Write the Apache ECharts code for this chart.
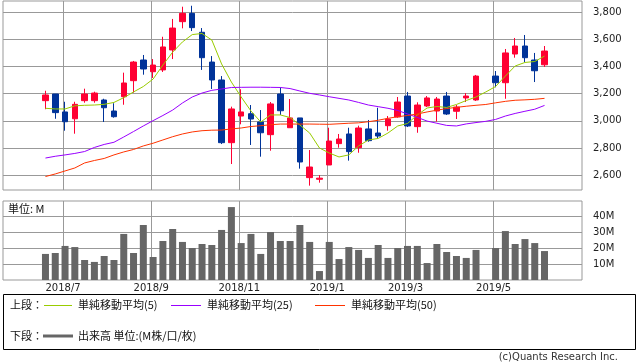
<!DOCTYPE html>
<html><head><meta charset="utf-8">
<script src="https://cdn.jsdelivr.net/npm/echarts@6/dist/echarts.min.js"></script>
<style>html,body{margin:0;padding:0;background:#fff}#c{width:638px;height:362px}</style>
</head><body><div id="c"></div><script>
// weekly data, index 0 = first week shown; index 45 = no trading (holiday week)
const open  = [3148,3197,3065,3015,3148,3148,3153,3072,3177,3295,3447,3361,3374,3521,3729,3790,3651,3432,3300,2839,3035,3052,2991,2898,3197,2949,3021,2582,2570,2675,2832,2903,2802,2940,2910,2964,3028,3182,2957,3109,3072,3182,3070,3168,3153,null,3329,3280,3491,3550,3447,3412];
const close = [3190,3060,2993,3121,3197,3204,3096,3030,3278,3432,3381,3410,3543,3682,3790,3685,3464,3300,2839,3087,3065,3013,2912,3124,3074,3021,2697,2660,2578,2851,2866,2773,2947,2854,2888,3013,3138,2962,3116,3168,3160,3050,3101,3182,3329,null,3280,3499,3550,3464,3368,3513];
const high  = [3221,3197,3140,3140,3236,3214,3162,3129,3354,3440,3484,3454,3618,3749,3839,3846,3682,3476,3329,3104,3232,3116,3079,3138,3246,3160,3021,2785,2601,2949,2903,2949,2964,3006,3096,3035,3175,3212,3136,3182,3175,3212,3116,3204,3337,null,3366,3528,3609,3631,3499,3550];
const low   = [3085,3015,2927,2905,3133,3133,2991,3023,3118,3207,3339,3315,3359,3454,3680,3660,3374,3234,2829,2682,2974,2822,2736,2780,3043,2949,2648,2523,2545,2675,2802,2707,2765,2846,2868,2927,3023,2954,2912,3101,2994,3043,3013,3138,3146,null,3246,3162,3464,3432,3285,3396];
const volume = [16.3,16.9,21.3,20.6,12.5,11.3,15.0,12.5,28.8,16.9,34.4,14.4,24.4,31.9,23.8,20.0,22.5,21.9,31.3,45.6,23.1,28.8,16.3,30.0,24.4,24.4,34.4,23.8,5.6,23.8,13.1,20.6,18.8,13.8,21.9,13.8,20.0,21.3,21.3,10.6,22.5,17.5,15.0,13.8,18.8,null,20.0,30.6,22.5,25.6,23.1,18.1];
const ma5  = [3092,3087,3087,3110,3114,3116,3121,3135,3170,3212,3252,3307,3410,3505,3580,3634,3642,3594,3418,3285,3175,3072,2991,3043,3043,3024,2969,2910,2800,2763,2734,2749,2815,2859,2870,2910,2962,2980,3043,3094,3105,3098,3120,3149,3175,3212,3252,3329,3403,3429,3436,3476];
const ma25 = [2726,2739,2749,2760,2774,2804,2826,2842,2881,2921,2962,3001,3039,3079,3131,3175,3204,3224,3234,3245,3246,3247,3247,3246,3245,3237,3219,3202,3190,3177,3165,3153,3135,3116,3104,3092,3076,3050,3025,2998,2982,2966,2962,2977,2987,2996,3010,3035,3054,3070,3085,3113];
const ma50 = [2590,2609,2631,2653,2690,2708,2723,2749,2771,2789,2815,2835,2859,2883,2903,2918,2927,2931,2932,2940,2947,2958,2964,2971,2976,2976,2976,2976,2975,2974,2978,2982,2985,2993,3004,3018,3030,3039,3050,3065,3078,3090,3099,3107,3114,3120,3132,3143,3151,3154,3158,3165];
const monthTickPos = [1.8,10.8,19.8,28.8,36.8,45.8];
const monthTickLabels = ['2018/7','2018/9','2018/11','2019/1','2019/3','2019/5'];
const priceTicks = [2600,2800,3000,3200,3400,3600,3800];
const volumeTicks = [10,20,30,40];

const candleData = [];
for (let i = 0; i < open.length; i++) {
  if (open[i] != null) candleData.push([i, open[i], close[i], low[i], high[i]]);
}
const toXY = arr => arr.map((v, i) => v == null ? null : [i, v]).filter(Boolean);

const GRAY = '#999';
const LBL = {fontFamily: 'DejaVu Sans', fontSize: 10, color: '#222'};
const xBase = {
  type: 'value', min: -4.34, max: 54.83,
  axisLine: {show: false},
  axisTick: {show: false, customValues: monthTickPos},
  splitLine: {show: true, lineStyle: {color: GRAY, width: 1}},
  axisLabel: {show: false}
};
const labelFor = v => {
  let best = 0;
  monthTickPos.forEach((p, k) => { if (Math.abs(p - v) < Math.abs(monthTickPos[best] - v)) best = k; });
  return monthTickLabels[best];
};
const JP = '"Noto Sans CJK JP", sans-serif';

const chart = echarts.init(document.getElementById('c'), null, {renderer: 'canvas'});
chart.setOption({
  animation: false,
  backgroundColor: '#fff',
  grid: [
    {left: 3, top: 1, width: 579, height: 189, show: true, borderColor: GRAY, borderWidth: 1, backgroundColor: 'transparent', outerBoundsMode: 'none'},
    {left: 3, top: 201, width: 579, height: 79, show: true, borderColor: GRAY, borderWidth: 1, backgroundColor: 'transparent', outerBoundsMode: 'none'}
  ],
  xAxis: [
    Object.assign({}, xBase, {gridIndex: 0}),
    Object.assign({}, xBase, {gridIndex: 1, axisLabel: Object.assign({show: true, customValues: monthTickPos, formatter: labelFor, margin: 3}, LBL)})
  ],
  yAxis: [
    {type: 'value', gridIndex: 0, position: 'right', min: 2491, max: 3881,
     axisLine: {show: false},
     axisTick: {show: true, length: 5, customValues: priceTicks, lineStyle: {color: GRAY}},
     axisLabel: Object.assign({customValues: priceTicks, margin: 11, formatter: v => v.toLocaleString('en-US')}, LBL),
     splitLine: {show: true, lineStyle: {color: GRAY, width: 1}}},
    {type: 'value', gridIndex: 1, position: 'right', min: 0, max: 49.4,
     axisLine: {show: false},
     axisTick: {show: true, length: 5, customValues: volumeTicks, lineStyle: {color: GRAY}},
     axisLabel: Object.assign({customValues: volumeTicks, margin: 11, formatter: v => v + 'M'}, LBL),
     splitLine: {show: true, lineStyle: {color: GRAY, width: 1}}}
  ],
  series: [
    {type: 'candlestick', xAxisIndex: 0, yAxisIndex: 0, data: candleData, barWidth: 6, silent: true,
     itemStyle: {color: '#ff0033', color0: '#003399', borderColor: '#ff0033', borderColor0: '#003399', borderWidth: 1}},
    {type: 'line', xAxisIndex: 0, yAxisIndex: 0, data: toXY(ma5), symbol: 'none', silent: true, z: 3,
     lineStyle: {color: '#99cc00', width: 1}},
    {type: 'line', xAxisIndex: 0, yAxisIndex: 0, data: toXY(ma25), symbol: 'none', silent: true, z: 3,
     lineStyle: {color: '#9900ff', width: 1}},
    {type: 'line', xAxisIndex: 0, yAxisIndex: 0, data: toXY(ma50), symbol: 'none', silent: true, z: 3,
     lineStyle: {color: '#ff3300', width: 1}},
    {type: 'bar', xAxisIndex: 1, yAxisIndex: 1, data: toXY(volume), barWidth: 7, silent: true,
     itemStyle: {color: '#666666'}}
  ],
  graphic: [
    {type: 'text', left: 8, top: 203, style: {text: '単位: M', font: '11px ' + JP, fill: '#111'}},
    {type: 'rect', shape: {x: 3.5, y: 294.5, width: 632, height: 55}, style: {fill: 'none', stroke: '#000', lineWidth: 1}},
    {type: 'text', x: 10, y: 305, style: {text: '上段：', font: '11px ' + JP, fill: '#111', verticalAlign: 'middle'}},
    {type: 'line', shape: {x1: 44, y1: 305.5, x2: 72, y2: 305.5}, style: {stroke: '#99cc00', lineWidth: 1}},
    {type: 'text', x: 78, y: 305, style: {text: '単純移動平均(5)', font: '11px ' + JP, fill: '#111', verticalAlign: 'middle'}},
    {type: 'line', shape: {x1: 171, y1: 305.5, x2: 201, y2: 305.5}, style: {stroke: '#9900ff', lineWidth: 1}},
    {type: 'text', x: 207, y: 305, style: {text: '単純移動平均(25)', font: '11px ' + JP, fill: '#111', verticalAlign: 'middle'}},
    {type: 'line', shape: {x1: 315, y1: 305.5, x2: 345, y2: 305.5}, style: {stroke: '#ff3300', lineWidth: 1}},
    {type: 'text', x: 351, y: 305, style: {text: '単純移動平均(50)', font: '11px ' + JP, fill: '#111', verticalAlign: 'middle'}},
    {type: 'text', x: 10, y: 336, style: {text: '下段：', font: '11px ' + JP, fill: '#111', verticalAlign: 'middle'}},
    {type: 'line', shape: {x1: 43, y1: 336, x2: 73, y2: 336}, style: {stroke: '#666666', lineWidth: 3}},
    {type: 'text', x: 78, y: 336, style: {text: '出来高 単位:(M株/口/枚)', font: '11px ' + JP, fill: '#111', verticalAlign: 'middle'}},
    {type: 'text', x: 618, y: 357, style: {text: '(c)Quants Research Inc.', font: '10px "DejaVu Sans"', fill: '#333', align: 'right', verticalAlign: 'middle'}}
  ]
});
</script></body></html>
